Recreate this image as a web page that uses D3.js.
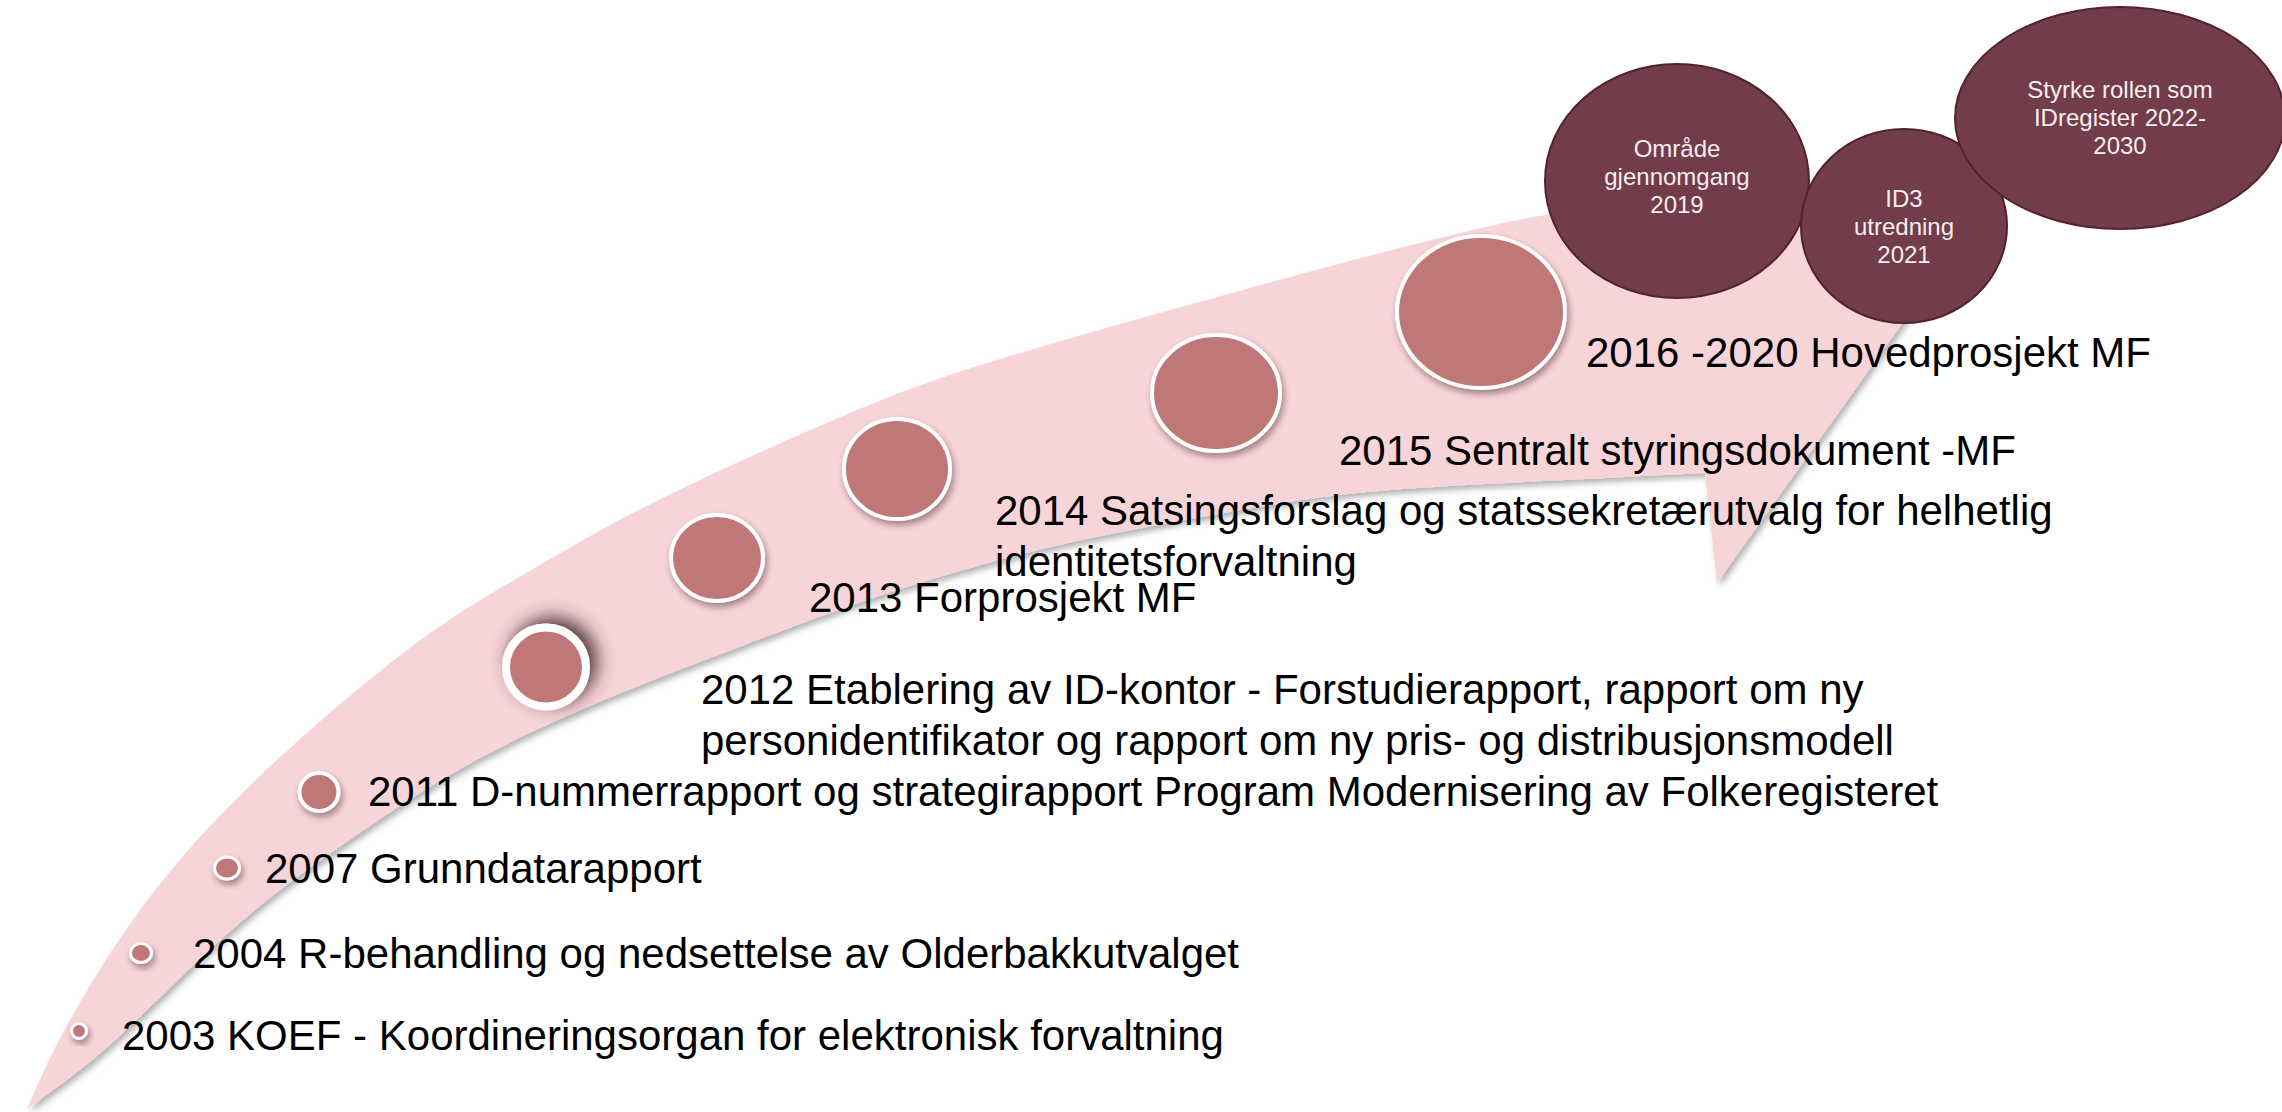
<!DOCTYPE html>
<html>
<head>
<meta charset="utf-8">
<script src="https://cdn.jsdelivr.net/npm/d3@7"></script>
<style>
   html, body { margin: 0; padding: 0; background: #ffffff; overflow: hidden; }
   svg { display: block; }
   text { font-family: 'Liberation Sans', Arial, sans-serif; }
</style>
</head>
<body>
<svg id="chart"></svg>
<script>
// ---- content ----
const eventLabels = [
   ['2003 KOEF - Koordineringsorgan for elektronisk forvaltning'],
   ['2004 R-behandling og nedsettelse av Olderbakkutvalget'],
   ['2007 Grunndatarapport'],
   ['2011 D-nummerrapport og strategirapport Program Modernisering av Folkeregisteret'],
   ['2012 Etablering av ID-kontor - Forstudierapport, rapport om ny',
    'personidentifikator og rapport om ny pris- og distribusjonsmodell'],
   ['2013 Forprosjekt MF'],
   ['2014 Satsingsforslag og statssekretærutvalg for helhetlig', 'identitetsforvaltning'],
   ['2015 Sentralt styringsdokument -MF'],
   ['2016 -2020 Hovedprosjekt MF'],
];

const futureLabels = [
   ['Område', 'gjennomgang', '2019'],
   ['ID3', 'utredning', '2021'],
   ['Styrke rollen som', 'IDregister 2022-', '2030'],
];

// ---- layout, in slide units (the reference is 2282 x 1112) ----
const dotCenters = [
   [79, 1031], [141, 953], [227, 868], [319, 792], [546, 667],
   [717, 558], [897, 469], [1216, 393], [1481, 312],
];
const dotRadii = [
   [9, 9], [12, 11], [14, 12.5], [21.5, 21], [42, 41.5],
   [48, 45], [55, 52], [66, 60], [86, 78],
];
const labelAnchors = [
   [122, 1050], [193, 968], [265, 883], [368, 806], [701, 704],
   [809, 612], [995, 525], [1339, 465], [1586, 367],
];

const futureCenters = [[1677, 181], [1904, 226], [2120, 118]];
const futureRadii = [[132, 117], [103, 97], [165, 111]];
const futureFirstBaseline = [157, 207, 98];

// curved band: upper edge (bottom -> head), arrow head, lower edge (head -> bottom)
const arrowUpper = [
   [27, 1109], [45, 1068], [67, 1024], [113, 946], [172, 866], [238, 796],
   [300, 738], [364, 684], [440, 623], [540, 565], [640, 507], [780, 443],
   [873, 403], [940, 377], [1073, 337], [1207, 300], [1340, 263], [1460, 233],
   [1548, 212], [1681, 200],
];
const arrowHead = [[1670, 95], [1919, 300], [1717, 583], [1705, 473]];
const arrowLower = [
   [1705, 473], [1460, 485], [1340, 493], [1240, 510], [1073, 540], [960, 570],
   [840, 608], [740, 647], [607, 697], [473, 758], [367, 827], [267, 897],
   [187, 970], [107, 1050], [60, 1085], [27, 1109],
];

class TimelineArrow {
   constructor(_config) {
      this.config = {
         parentElement: _config.parentElement,
         containerWidth: _config.containerWidth || 2282,
         containerHeight: _config.containerHeight || 1112,
         labelSize: 42,
         circleTextSize: 24,
      };
      this.initVis();
   }

   initVis() {
      const vis = this;
      vis.svg = d3
         .select(vis.config.parentElement)
         .attr('width', vis.config.containerWidth)
         .attr('height', vis.config.containerHeight);

      // slide units -> pixels
      vis.x = d3.scaleLinear().domain([0, 2282]).range([0, vis.config.containerWidth]);
      vis.y = d3.scaleLinear().domain([0, 1112]).range([0, vis.config.containerHeight]);

      const defs = vis.svg.append('defs');

      const bandShadow = defs.append('filter').attr('id', 'band-shadow')
         .attr('x', '-10%').attr('y', '-10%').attr('width', '120%').attr('height', '120%');
      bandShadow.append('feDropShadow')
         .attr('dx', 3).attr('dy', 4).attr('stdDeviation', 3)
         .attr('flood-color', '#000').attr('flood-opacity', 0.3);

      const dotShadow = defs.append('filter').attr('id', 'dot-shadow')
         .attr('x', '-50%').attr('y', '-50%').attr('width', '200%').attr('height', '200%');
      dotShadow.append('feDropShadow')
         .attr('dx', 2).attr('dy', 4).attr('stdDeviation', 3)
         .attr('flood-color', '#3a1a20').attr('flood-opacity', 0.45);

      // the 2012 dot has a heavy dark glow in the original
      const glow = defs.append('filter').attr('id', 'dot-glow')
         .attr('x', '-80%').attr('y', '-80%').attr('width', '260%').attr('height', '260%');
      glow.append('feDropShadow')
         .attr('dx', 7).attr('dy', -6).attr('stdDeviation', 9)
         .attr('flood-color', '#4a2a30').attr('flood-opacity', 0.95);

      vis.updateVis();
   }

   updateVis() {
      const vis = this;
      const rx = (d) => vis.x(d) - vis.x(0);
      const ry = (d) => vis.y(d) - vis.y(0);

      // curved arrow
      const edge = d3.line()
         .x((d) => vis.x(d[0]))
         .y((d) => vis.y(d[1]))
         .curve(d3.curveBasis);
      const straight = d3.line().x((d) => vis.x(d[0])).y((d) => vis.y(d[1]));
      const pathD =
         edge(arrowUpper) +
         straight([arrowUpper[arrowUpper.length - 1]].concat(arrowHead)).replace('M', 'L') +
         edge(arrowLower).replace('M', 'L') + 'Z';

      vis.svg.append('path')
         .attr('d', pathD)
         .attr('fill', '#f6d4d7')
         .attr('filter', 'url(#band-shadow)');

      // milestone dots
      vis.svg.append('g')
         .selectAll('ellipse')
         .data(dotCenters)
         .join('ellipse')
         .attr('cx', (d) => vis.x(d[0]))
         .attr('cy', (d) => vis.y(d[1]))
         .attr('rx', (d, i) => rx(dotRadii[i][0]) - (i < 3 ? 1.5 : 2))
         .attr('ry', (d, i) => ry(dotRadii[i][1]) - (i < 3 ? 1.5 : 2))
         .attr('fill', '#bf7777')
         .attr('stroke', '#ffffff')
         .attr('stroke-width', (d, i) => (i < 3 ? 3 : i === 4 ? 8 : 4))
         .attr('filter', (d, i) => (i === 4 ? 'url(#dot-glow)' : 'url(#dot-shadow)'));

      // milestone labels
      const labels = vis.svg.append('g')
         .selectAll('text')
         .data(eventLabels)
         .join('text')
         .attr('x', (d, i) => vis.x(labelAnchors[i][0]))
         .attr('y', (d, i) => vis.y(labelAnchors[i][1]))
         .attr('font-size', vis.config.labelSize)
         .attr('fill', '#000000');
      labels.selectAll('tspan')
         .data((d, i) => d.map((line) => ({ line, x: labelAnchors[i][0] })))
         .join('tspan')
         .attr('x', (d) => vis.x(d.x))
         .attr('dy', (d, j) => (j === 0 ? 0 : 51))
         .text((d) => d.line);

      // future bubbles
      const bubbles = vis.svg.append('g')
         .selectAll('g')
         .data(futureLabels)
         .join('g');
      bubbles.append('ellipse')
         .attr('cx', (d, i) => vis.x(futureCenters[i][0]))
         .attr('cy', (d, i) => vis.y(futureCenters[i][1]))
         .attr('rx', (d, i) => rx(futureRadii[i][0]))
         .attr('ry', (d, i) => ry(futureRadii[i][1]))
         .attr('fill', '#723c4a')
         .attr('stroke', '#52232f')
         .attr('stroke-width', 2);
      bubbles.append('text')
         .attr('text-anchor', 'middle')
         .attr('font-size', vis.config.circleTextSize)
         .attr('fill', '#f7eef0')
         .attr('y', (d, i) => vis.y(futureFirstBaseline[i]))
         .selectAll('tspan')
         .data((d, i) => d.map((line) => ({ line, x: futureCenters[i][0] })))
         .join('tspan')
         .attr('x', (d) => vis.x(d.x))
         .attr('dy', (d, j) => (j === 0 ? 0 : 28))
         .text((d) => d.line);
   }
}

new TimelineArrow({ parentElement: '#chart', containerWidth: 2282, containerHeight: 1112 });
</script>
</body>
</html>
